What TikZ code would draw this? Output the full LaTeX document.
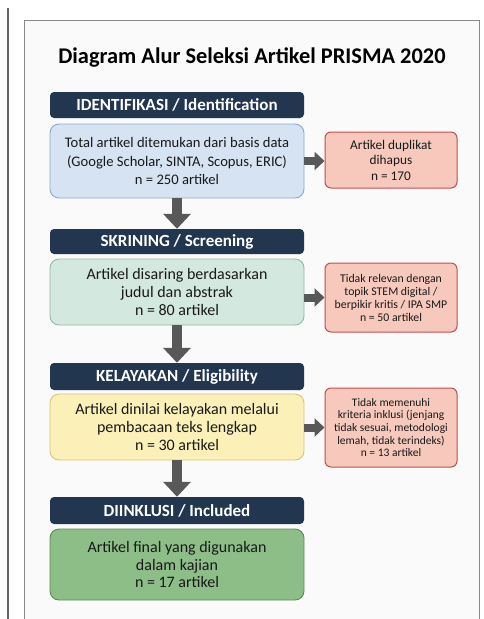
\documentclass[tikz,border=0pt]{standalone}
\usepackage{fontspec}
\setmainfont{Carlito}
\usepackage{tikz}
\usetikzlibrary{
  arrows.meta,   % Triangle 箭头
  positioning    % 节点相对定位
}
\definecolor{headnavy}{HTML}{223650}
\definecolor{identfill}{HTML}{D5E3F3}
\definecolor{identline}{HTML}{8FA8C8}
\definecolor{screenfill}{HTML}{D3E8DE}
\definecolor{screenline}{HTML}{94B8A8}
\definecolor{eligfill}{HTML}{FBF0B8}
\definecolor{eligline}{HTML}{D8C57A}
\definecolor{inclfill}{HTML}{8DBE88}
\definecolor{inclline}{HTML}{5D8A5A}
\definecolor{dropfill}{HTML}{F6C9BC}
\definecolor{dropline}{HTML}{C0504D}
\definecolor{flowgray}{HTML}{585858}
\definecolor{framegray}{HTML}{8A8A8A}
\tikzset{
  stage head/.style={
    rectangle,
    rounded corners=4pt,
    fill=headnavy,
    text=white,
    font=\bfseries\fontsize{17}{20}\selectfont,
    minimum width=254pt,
    inner sep=0pt
  },
  stage box/.style={
    rectangle,
    rounded corners=9pt,
    line width=0.9pt,
    align=center,
    text=black!90,
    font=\fontsize{16}{17.8}\selectfont,
    minimum width=254pt,
    inner sep=0pt
  },
  drop box/.style={
    rectangle,
    rounded corners=6pt,
    draw=dropline,
    fill=dropfill,
    line width=1pt,
    align=center,
    text=black!90,
    minimum width=132pt,
    inner sep=0pt
  },
  flow down/.style={
    -{Triangle[length=15pt,width=27pt]},
    line width=10pt,
    color=flowgray
  },
  flow side/.style={
    -{Triangle[length=10pt,width=18pt]},
    line width=8pt,
    color=flowgray
  }
}

\begin{document}
\begin{tikzpicture}[x=1pt, y=-1pt]
  % 画布与外框
  \useasboundingbox[fill=white] (0,0) rectangle (483,619);
  \fill[black!2] (24,20) rectangle (479,619);
  \draw[framegray, line width=1pt] (24,619) -- (24,20) -- (479,20) -- (479,619);
  \draw[black!60, line width=1.2pt] (8,8) -- (8,619);

  % 1. 标题
  \node[font=\bfseries\fontsize{22.4}{26}\selectfont] (judul) at (252,58)
    {Diagram Alur Seleksi Artikel PRISMA 2020};

  % 2. 识别阶段
  \node[stage head, minimum height=26pt] (hIdent) at (177,105) {IDENTIFIKASI / Identification};
  \node[stage box, draw=identline, fill=identfill, minimum height=74pt,
        font=\fontsize{14.6}{18.5}\selectfont] (bIdent) at (177,161)
    {Total artikel ditemukan dari basis data\\(Google Scholar, SINTA, Scopus, ERIC)\\n = 250 artikel};
  \node[drop box, minimum height=56pt, font=\fontsize{13.3}{15.5}\selectfont] (xIdent) at (391,160)
    {Artikel duplikat\\dihapus\\n = 170};

  % 3. 筛选阶段
  \node[stage head, minimum height=25pt] (hScreen) at (177,241.5) {SKRINING / Screening};
  \node[stage box, draw=screenline, fill=screenfill, minimum height=66pt] (bScreen) at (177,292)
    {Artikel disaring berdasarkan\\judul dan abstrak\\n = 80 artikel};
  \node[drop box, minimum height=69pt, font=\fontsize{11.8}{13}\selectfont] (xScreen) at (391,297.5)
    {Tidak relevan dengan\\topik STEM digital /\\berpikir kritis / IPA SMP\\n = 50 artikel};

  % 4. 资格审查阶段
  \node[stage head, minimum height=27pt] (hElig) at (177,376.5) {KELAYAKAN / Eligibility};
  \node[stage box, draw=eligline, fill=eligfill, minimum height=66pt] (bElig) at (177,427)
    {Artikel dinilai kelayakan melalui\\pembacaan teks lengkap\\n = 30 artikel};
  \node[drop box, minimum height=79pt, font=\fontsize{11.5}{12.6}\selectfont] (xElig) at (391,427.5)
    {Tidak memenuhi\\kriteria inklusi (jenjang\\tidak sesuai, metodologi\\lemah, tidak terindeks)\\n = 13 artikel};

  % 5. 纳入阶段
  \node[stage head, minimum height=27pt] (hIncl) at (177,510.5) {DIINKLUSI / Included};
  \node[stage box, draw=inclline, fill=inclfill, minimum height=71pt] (bIncl) at (177,564.5)
    {Artikel final yang digunakan\\dalam kajian\\n = 17 artikel};

  % 6. 箭头
  \draw[flow down] (bIdent.south) -- (hScreen.north);
  \draw[flow down] (bScreen.south) -- (hElig.north);
  \draw[flow down] (bElig.south) -- (hIncl.north);
  \draw[flow side] (bIdent.east) -- (bIdent.east -| xIdent.west);
  \draw[flow side] (bScreen.east |- xScreen.west) -- (xScreen.west);
  \draw[flow side] (bElig.east |- xElig.west) -- (xElig.west);
\end{tikzpicture}
\end{document}
